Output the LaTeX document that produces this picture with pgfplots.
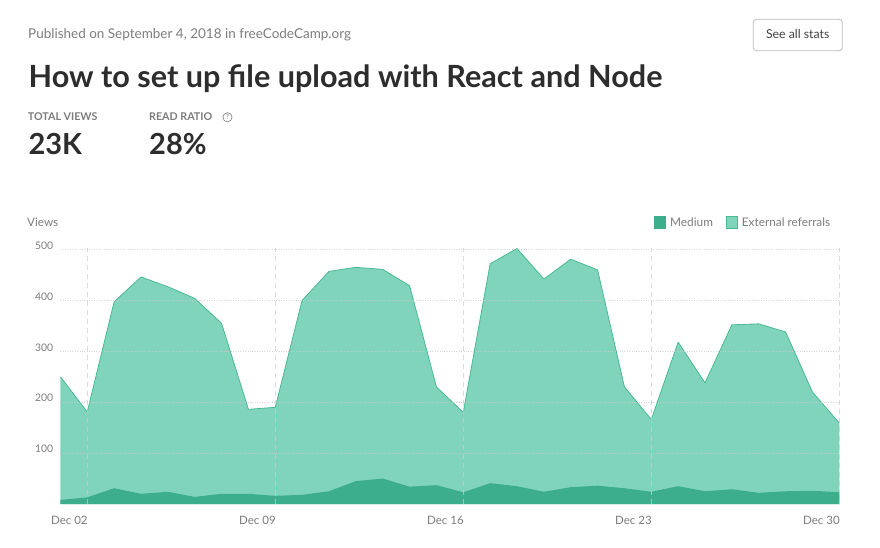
\documentclass[border=0pt]{standalone}
\usepackage{fontspec}
\setmainfont{Lato}
\usepackage{pgfplots}
\pgfplotsset{compat=1.18}
\usepackage{pgfplotstable}
\definecolor{lightg}{RGB}{128,212,187}
\definecolor{darkg}{RGB}{60,174,140}
\definecolor{lineg}{RGB}{72,186,146}
\definecolor{gridc}{RGB}{205,205,205}
\definecolor{txtgray}{RGB}{125,125,125}
\definecolor{titlec}{RGB}{45,45,45}
\pgfplotstableread{
day total medium
0 250 8
1 181 13
2 397 31
3 446 20
4 427 24
5 404 14
6 355 20
7 186 20
8 190 16
9 400 18
10 457 25
11 465 45
12 461 50
13 429 34
14 230 37
15 180 23
16 472 41
17 502 35
18 442 24
19 481 33
20 460 36
21 230 31
22 166 24
23 318 35
24 238 25
25 352 29
26 354 22
27 338 25
28 220 26
29 159 23
}\views
\begin{document}
\begin{tikzpicture}
\useasboundingbox (0pt,0pt) rectangle (880pt,547pt);
\fill[white] (0pt,0pt) rectangle (880pt,547pt);
% header
\node[anchor=base west, inner sep=0, font=\fontsize{13.5}{16}\selectfont, text=txtgray] at (28pt,508.7pt) {Published on September 4, 2018 in freeCodeCamp.org};
\draw[gridc!80!gray, line width=0.8pt, rounded corners=3pt] (753.3pt,496.3pt) rectangle (842.3pt,527.7pt);
\node[inner sep=0, font=\fontsize{12.3}{15}\selectfont, text=black!75] at (797.7pt,512.7pt) {See all stats};
\node[anchor=base west, inner sep=0, font=\bfseries\fontsize{30.6}{35}\selectfont, text=titlec] at (28.5pt,459.7pt) {How to set up file upload with React and Node};
\node[anchor=base west, inner sep=0, font=\bfseries\fontsize{10.7}{13}\selectfont, text=txtgray] at (27.7pt,426pt) {TOTAL VIEWS};
\node[anchor=base west, inner sep=0, font=\bfseries\fontsize{10.7}{13}\selectfont, text=txtgray] at (149pt,426pt) {READ RATIO};
\draw[txtgray, line width=0.6pt] (227.5pt,429.7pt) circle (4.6pt);
\node[inner sep=0, font=\fontsize{7}{8}\selectfont, text=txtgray] at (227.5pt,429.7pt) {?};
\node[anchor=base west, inner sep=0, font=\bfseries\fontsize{29}{33}\selectfont, text=titlec] at (28.3pt,392pt) {23K};
\node[anchor=base west, inner sep=0, font=\bfseries\fontsize{29}{33}\selectfont, text=titlec] at (149pt,392pt) {28\%};
% chart labels
\node[anchor=west, inner sep=0, font=\fontsize{11.7}{14}\selectfont, text=txtgray] at (27pt,325pt) {Views};
\fill[darkg] (654pt,318.5pt) rectangle (666pt,330.5pt);
\node[anchor=west, inner sep=0, font=\fontsize{11.8}{14}\selectfont, text=txtgray] at (670pt,324.3pt) {Medium};
\filldraw[fill=lightg, draw=lineg, line width=0.6pt] (726.3pt,318.8pt) rectangle (737.7pt,330.2pt);
\node[anchor=west, inner sep=0, font=\fontsize{11.8}{14}\selectfont, text=txtgray] at (741.7pt,324.3pt) {External referrals};
\begin{axis}[
  at={(60.4pt,43pt)}, anchor=south west,
  scale only axis, width=778.9pt, height=256pt,
  xmin=0, xmax=29, ymin=0, ymax=503,
  hide x axis=false,
  axis line style={draw=none},
  axis on top,
  xtick={1,8,15,22,29},
  xticklabels={Dec 02,Dec 09,Dec 16,Dec 23,Dec 30},
  ytick={100,200,300,400,500},
  major tick length=0pt,
  xmajorgrids, ymajorgrids,
  major x grid style={gridc, dash pattern=on 5pt off 4pt, line width=0.8pt, opacity=0.7},
  major y grid style={gridc, dotted, line width=0.8pt, opacity=0.8},
  /pgf/number format/assume math mode=true,
  xticklabel style={anchor=north east, inner sep=0pt, yshift=-12pt, xshift=0.6pt, font=\fontsize{11.5}{13}\selectfont, text=txtgray},
  yticklabel style={anchor=base east, inner sep=0pt, xshift=-7pt, yshift=0.3pt, font=\fontsize{10.4}{12}\selectfont, text=txtgray},
]
\addplot[fill=lightg, draw=none] table[x=day, y=total] {\views} \closedcycle;
\addplot[lineg, line width=0.8pt, line join=round] table[x=day, y=total] {\views};
\addplot[fill=darkg, draw=none] table[x=day, y=medium] {\views} \closedcycle;
\end{axis}
\end{tikzpicture}
\end{document}
